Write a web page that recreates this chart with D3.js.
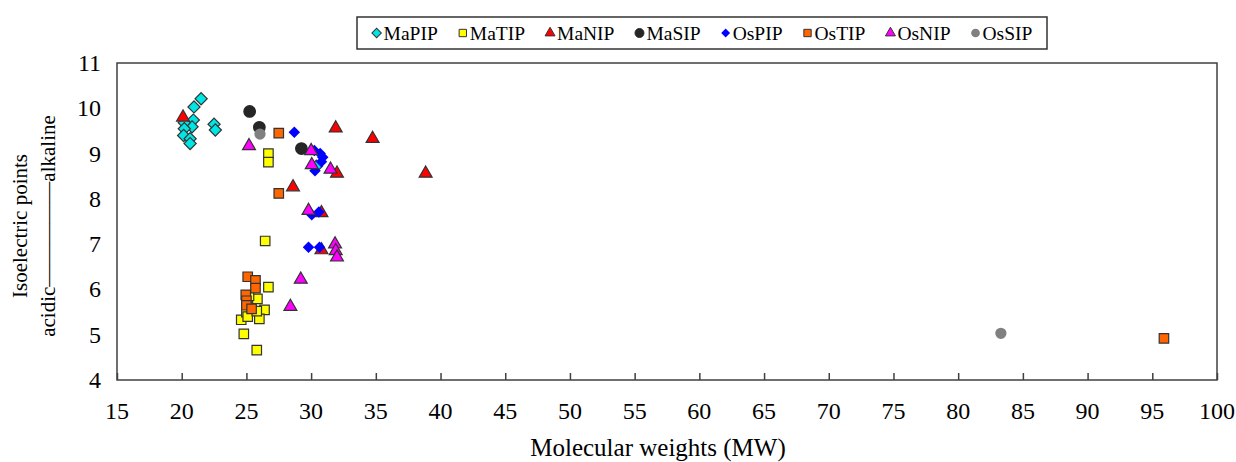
<!DOCTYPE html>
<html>
<head>
<meta charset="utf-8">
<script src="https://cdn.jsdelivr.net/npm/d3@7"></script>
<style>
  body { margin: 0; background: #fff; }
  text { font-family: "Liberation Serif", "Times New Roman", serif; fill: #000; }
</style>
</head>
<body>
<svg id="chart" width="1236" height="462"></svg>
<script>
// series values: [molecular weight, isoelectric point]
const maPIP = [[21.5, 10.21], [20.95, 10.03], [20.9, 9.74], [20.8, 9.59], [20.2, 9.68], [20.2, 9.55],
    [20.15, 9.4], [20.65, 9.33], [20.65, 9.22], [22.5, 9.65], [22.6, 9.52], [30.4, 8.72]];
const maTIP = [[26.7, 9.0], [26.7, 8.81], [26.45, 7.07], [26.7, 6.05], [25.85, 5.79], [26.4, 5.55],
    [26.0, 5.35], [24.6, 5.33], [24.8, 5.02], [25.8, 4.66], [25.0, 5.5], [25.1, 5.4], [25.8, 5.52], [25.2, 5.86]];
const maNIP = [[20.1, 9.8], [31.9, 9.56], [34.75, 9.33], [28.6, 8.26], [32.0, 8.56], [38.85, 8.56],
    [30.8, 7.69], [30.8, 6.87]];
const maSIP = [[25.25, 9.93], [26.0, 9.58], [29.25, 9.11]];
const osPIP = [[28.7, 9.47], [30.25, 9.07], [30.7, 9.0], [30.9, 8.92], [30.8, 8.82], [30.3, 8.62],
    [30.05, 7.65], [30.6, 7.71], [29.8, 6.93], [30.65, 6.93]];
const osTIP = [[27.5, 9.45], [27.5, 8.12], [25.1, 6.28], [25.7, 6.2], [25.7, 6.03], [24.95, 5.88],
    [25.0, 5.75], [25.0, 5.65], [25.4, 5.57], [95.9, 4.92]];
const osNIP = [[25.2, 9.17], [30.0, 9.06], [30.05, 8.75], [31.5, 8.65], [29.8, 7.74], [31.85, 7.0],
    [31.9, 6.85], [32.0, 6.71], [29.2, 6.22], [28.4, 5.62]];
const osSIP = [[26.05, 9.43], [83.3, 5.03]];

const seriesNames = ['MaPIP', 'MaTIP', 'MaNIP', 'MaSIP', 'OsPIP', 'OsTIP', 'OsNIP', 'OsSIP'];
const seriesData = [maPIP, maTIP, maNIP, maSIP, osPIP, osTIP, osNIP, osSIP];
const xTicks = d3.range(15, 101, 5);
const yTicks = [4, 5, 6, 7, 8, 9, 10, 11];

// diamonds are squares turned 45 degrees
const styles = {
    MaPIP: { shape: d3.symbolSquare, rot: 45, fill: '#00e5e5', stroke: '#333', size: 74 },
    MaTIP: { shape: d3.symbolSquare, rot: 0, fill: '#ffff00', stroke: '#333', size: 90 },
    MaNIP: { shape: d3.symbolTriangle, rot: 0, fill: '#ff0000', stroke: '#333', size: 72 },
    MaSIP: { shape: d3.symbolCircle, rot: 0, fill: '#262626', stroke: '#262626', size: 105 },
    OsPIP: { shape: d3.symbolSquare, rot: 45, fill: '#0000ff', stroke: 'none', size: 66 },
    OsTIP: { shape: d3.symbolSquare, rot: 0, fill: '#ff6600', stroke: '#333', size: 90 },
    OsNIP: { shape: d3.symbolTriangle, rot: 0, fill: '#ff00ff', stroke: '#333', size: 72 },
    OsSIP: { shape: d3.symbolCircle, rot: 0, fill: '#808080', stroke: 'none', size: 100 }
};

const svg = d3.select('#chart'),
    plotLeft = 117, plotRight = 1217, plotTop = 63, plotBottom = 380;

const x = d3.scaleLinear().domain([15, 100]).range([plotLeft, plotRight]),
    y = d3.scaleLinear().domain([4, 11]).range([plotBottom, plotTop]);

// frame
svg.append('rect')
    .attr('x', plotLeft).attr('y', plotTop)
    .attr('width', plotRight - plotLeft).attr('height', plotBottom - plotTop)
    .attr('fill', 'none').attr('stroke', '#404040').attr('stroke-width', 1.5);

// x axis: ticks pointing inwards
const xAxis = svg.append('g')
    .attr('transform', `translate(0,${plotBottom})`)
    .call(d3.axisTop(x).tickValues(xTicks).tickSize(7).tickFormat(''));
xAxis.select('.domain').remove();
xAxis.selectAll('line').attr('stroke', '#404040').attr('stroke-width', 1.5);

svg.append('g').selectAll('text')
    .data(xTicks)
    .enter().append('text')
    .attr('x', d => x(d))
    .attr('y', 419)
    .attr('text-anchor', 'middle')
    .style('font-size', '24px')
    .text(d => d);

svg.append('g').selectAll('text')
    .data(yTicks)
    .enter().append('text')
    .attr('x', 101)
    .attr('y', d => y(d) + 8)
    .attr('text-anchor', 'end')
    .style('font-size', '24px')
    .text(d => d);

svg.append('text')
    .attr('x', 658).attr('y', 456)
    .attr('text-anchor', 'middle')
    .style('font-size', '25px')
    .text('Molecular weights (MW)');

svg.append('text')
    .attr('transform', 'translate(27,226) rotate(-90)')
    .attr('text-anchor', 'middle')
    .style('font-size', '21px')
    .text('Isoelectric points');

svg.append('text')
    .attr('transform', 'translate(55,226) rotate(-90)')
    .attr('text-anchor', 'middle')
    .style('font-size', '21px')
    .text('acidic\u2014\u2014\u2014\u2014\u2014alkaline');

// points
seriesNames.forEach((name, i) => {
    const st = styles[name];
    svg.append('g').selectAll('path')
        .data(seriesData[i])
        .enter().append('path')
        .attr('transform', d => `translate(${x(d[0])},${y(d[1])}) rotate(${st.rot})`)
        .attr('d', d3.symbol().type(st.shape).size(st.size)())
        .attr('fill', st.fill)
        .attr('stroke', st.stroke)
        .attr('stroke-width', 1.2);
});

// legend
const legend = svg.append('g');
legend.append('rect')
    .attr('x', 357).attr('y', 17).attr('width', 690).attr('height', 32)
    .attr('fill', '#fff').attr('stroke', '#333').attr('stroke-width', 1.5);
const lg = legend.append('g');
const gap = 25;
let cx = 0;
seriesNames.forEach(name => {
    const st = styles[name];
    const item = lg.append('g').attr('transform', `translate(${cx},33)`);
    item.append('path')
        .attr('transform', `rotate(${st.rot})`)
        .attr('d', d3.symbol().type(st.shape).size(st.size * 0.6)())
        .attr('fill', st.fill)
        .attr('stroke', st.stroke)
        .attr('stroke-width', 1);
    const t = item.append('text')
        .attr('x', 7).attr('y', 7)
        .style('font-size', '19.5px')
        .text(name);
    cx += 7 + t.node().getComputedTextLength() + gap;
});
const lgWidth = cx - gap + 5;
lg.attr('transform', `translate(${702 - lgWidth / 2 + 5},0)`);
</script>
</body>
</html>
